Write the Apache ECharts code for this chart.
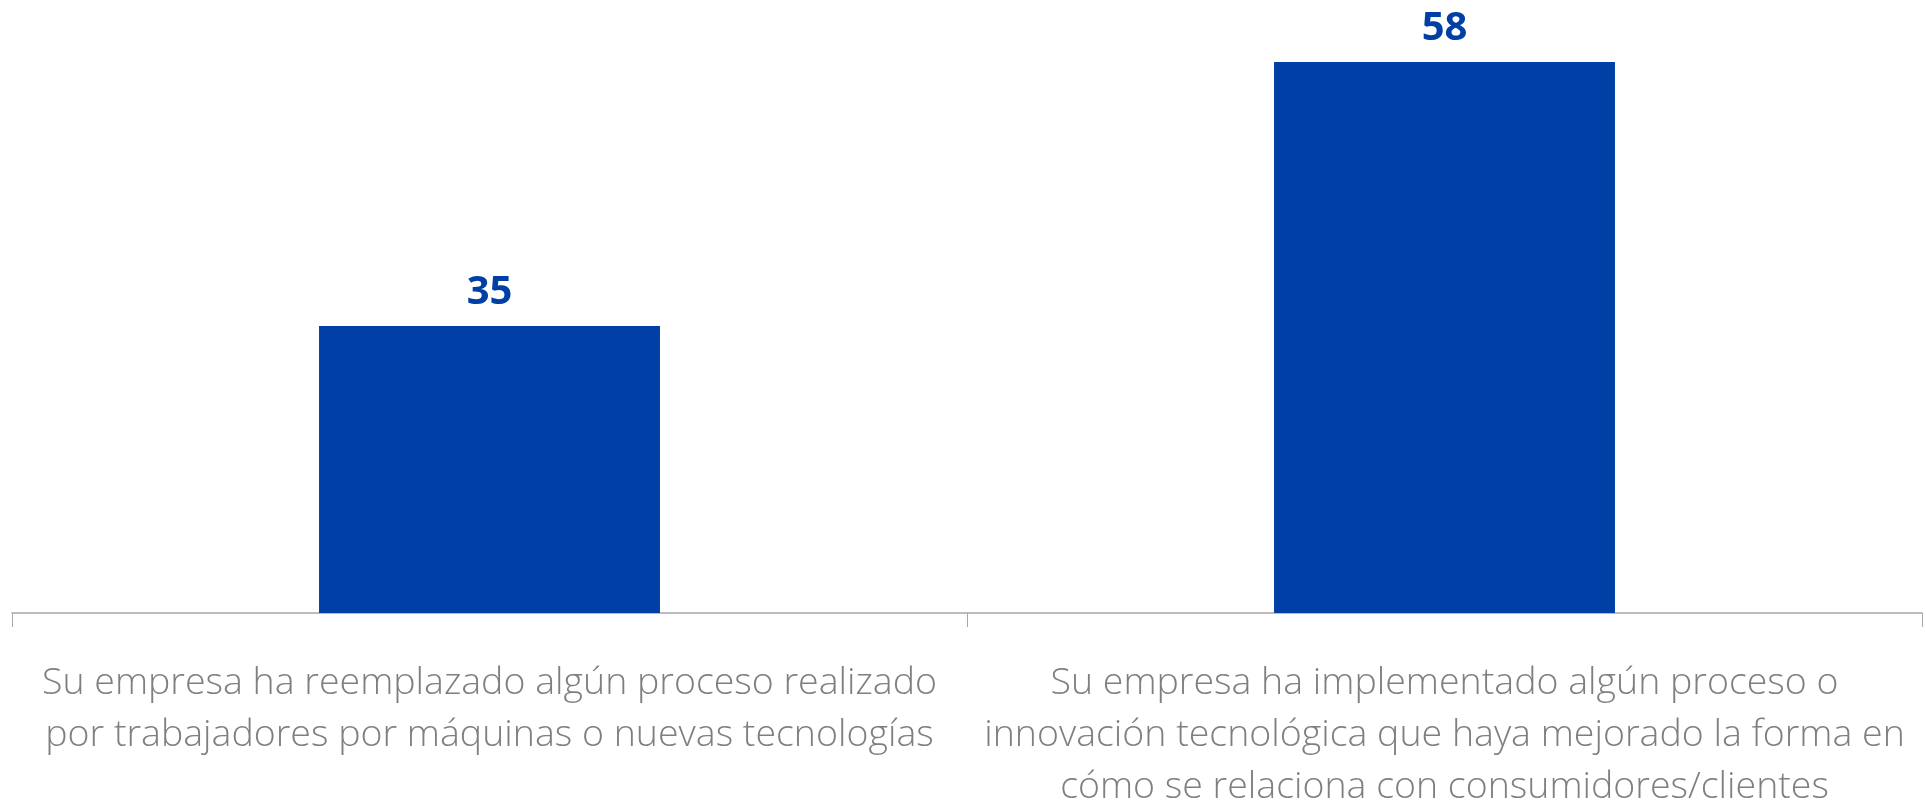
<!DOCTYPE html>
<html>
<head>
<meta charset="utf-8">
<script src="https://cdn.jsdelivr.net/npm/echarts@6/dist/echarts.min.js"></script>
<style>
  html, body { margin: 0; padding: 0; background: #fff; }
  #chart { width: 1926px; height: 803px; }
</style>
</head>
<body>
<div id="chart"></div>
<script>
// Category labels (line breaks as in the original slide)
const categories = [
  'Su empresa ha reemplazado algún proceso realizado\npor trabajadores por máquinas o nuevas tecnologías',
  'Su empresa ha implementado algún proceso o\ninnovación tecnológica que haya mejorado la forma en\ncómo se relaciona con consumidores/clientes'
]
const values = [35, 58]

const BLUE = '#003FA5'
const GREY_TEXT = '#7f7f7f'
const AXIS_LINE = '#a6a6a6'
const FONT = '"Open Sans", "Noto Sans", sans-serif'

const chart = echarts.init(document.getElementById('chart'))
chart.setOption({
  animation: false,
  textStyle: { fontFamily: FONT },
  grid: { left: 12, right: 4, top: 39, bottom: 190, outerBoundsMode: 'none', containLabel: false },
  xAxis: {
    type: 'category',
    data: categories,
    axisLine: { lineStyle: { color: AXIS_LINE, width: 1.5 } },
    axisTick: { show: true, length: 14, lineStyle: { color: AXIS_LINE, width: 1 } },
    axisLabel: {
      color: GREY_TEXT,
      fontFamily: FONT,
      fontWeight: 300,
      fontSize: 37.5,
      lineHeight: 52,
      margin: 44,
      interval: 0
    }
  },
  yAxis: {
    type: 'value',
    min: 10,
    max: 60,
    show: false,
    splitLine: { show: false }
  },
  series: [{
    type: 'bar',
    data: values,
    barWidth: '35.7%',
    itemStyle: { color: BLUE },
    label: {
      show: true,
      position: 'top',
      distance: 13,
      color: BLUE,
      fontFamily: FONT,
      fontWeight: 'bold',
      fontSize: 40
    }
  }]
})
</script>
</body>
</html>
